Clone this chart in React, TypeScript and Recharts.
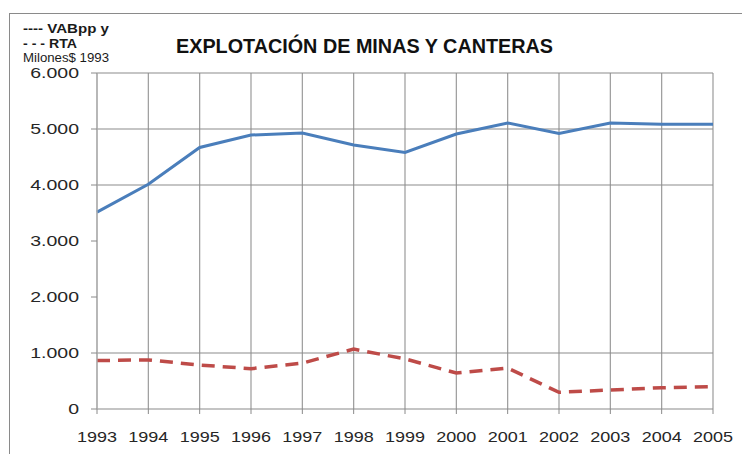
import React from 'react';
import { LineChart, Line, XAxis, YAxis, CartesianGrid, ReferenceLine } from 'recharts';

const years = ['1993', '1994', '1995', '1996', '1997', '1998', '1999', '2000', '2001', '2002', '2003', '2004', '2005'];
const vabValues = [3515, 4012, 4671, 4892, 4928, 4713, 4581, 4910, 5108, 4922, 5108, 5084, 5084];
const rtaValues = [865, 877, 785, 720, 819, 1070, 895, 643, 731, 298, 339, 380, 398];
const yTicks = [0, 1000, 2000, 3000, 4000, 5000, 6000];
const gridValues = [1000, 4000, 5000, 6000];

const data = years.map((y, i) => ({ year: y, vab: vabValues[i], rta: rtaValues[i] }));

const fmt = (v: number) => String(v).replace(/\B(?=(\d{3})+(?!\d))/g, '.');

const FONT = '"Liberation Sans", Arial, sans-serif';

const YTick = (props: any) => {
  const { x, y, payload } = props;
  return (
    <g transform={`translate(${x - 10},${y + 5})`}>
      <text transform="scale(1.3,1)" textAnchor="end" fontFamily={FONT} fontSize={15} fill="#262626">
        {fmt(payload.value)}
      </text>
    </g>
  );
};

const XTick = (props: any) => {
  const { x, y, payload } = props;
  return (
    <g transform={`translate(${x},${y + 26})`}>
      <text transform="scale(1.2,1)" textAnchor="middle" fontFamily={FONT} fontSize={15} fill="#262626">
        {payload.value}
      </text>
    </g>
  );
};

export default function App() {
  return (
    <div style={{ position: 'absolute', left: 0, top: 0, width: 742, height: 454, overflow: 'hidden', background: '#fff' }}>
      <div style={{ position: 'absolute', left: 9, top: 13, width: 760, height: 470, border: '1.5px solid #8a8a8a' }} />
      <div style={{ position: 'absolute', left: 0, top: 0 }}>
        <LineChart width={742} height={454} data={data} margin={{ top: 73, right: 29, bottom: 0, left: 0 }}>
          <CartesianGrid stroke="#9a9a9a" strokeWidth={1.2} horizontal={false} vertical={true} />
          {gridValues.map((v) => (
            <ReferenceLine key={v} y={v} stroke="#8c8c8c" strokeWidth={1.2} ifOverflow="visible" />
          ))}
          <XAxis
            dataKey="year"
            height={45}
            tick={<XTick />}
            tickLine={{ stroke: '#8a8a8a' }}
            axisLine={{ stroke: '#8a8a8a', strokeWidth: 1.2 }}
            tickSize={5}
            interval={0}
          />
          <YAxis
            domain={[0, 6000]}
            ticks={yTicks}
            width={97}
            tick={<YTick />}
            tickLine={{ stroke: '#8a8a8a' }}
            axisLine={{ stroke: '#b0b0b0', strokeWidth: 1.2 }}
            tickSize={6}
            interval={0}
          />
          <Line
            type="linear"
            dataKey="vab"
            stroke="#4A7EBB"
            strokeWidth={3}
            dot={false}
            isAnimationActive={false}
          />
          <Line
            type="linear"
            dataKey="rta"
            stroke="#BE4B48"
            strokeWidth={3.5}
            strokeDasharray="13 8"
            dot={false}
            isAnimationActive={false}
          />
        </LineChart>
      </div>
      <svg width={742} height={454} style={{ position: 'absolute', left: 0, top: 0, pointerEvents: 'none' }}>
        <text x={23} y={33} fontFamily={FONT} fontSize={13} fontWeight="bold" fill="#1a1a1a" textLength={86} lengthAdjust="spacingAndGlyphs">
          ---- VABpp y
        </text>
        <text x={23} y={48} fontFamily={FONT} fontSize={13} fontWeight="bold" fill="#1a1a1a" textLength={54} lengthAdjust="spacingAndGlyphs">
          - - - RTA
        </text>
        <text x={23} y={62} fontFamily={FONT} fontSize={12} fill="#1a1a1a" textLength={86} lengthAdjust="spacingAndGlyphs">
          Milones$ 1993
        </text>
        <text x={176} y={53} fontFamily={FONT} fontSize={21} fontWeight="bold" fill="#111" textLength={377} lengthAdjust="spacingAndGlyphs">
          EXPLOTACIÓN DE MINAS Y CANTERAS
        </text>
      </svg>
    </div>
  );
}
